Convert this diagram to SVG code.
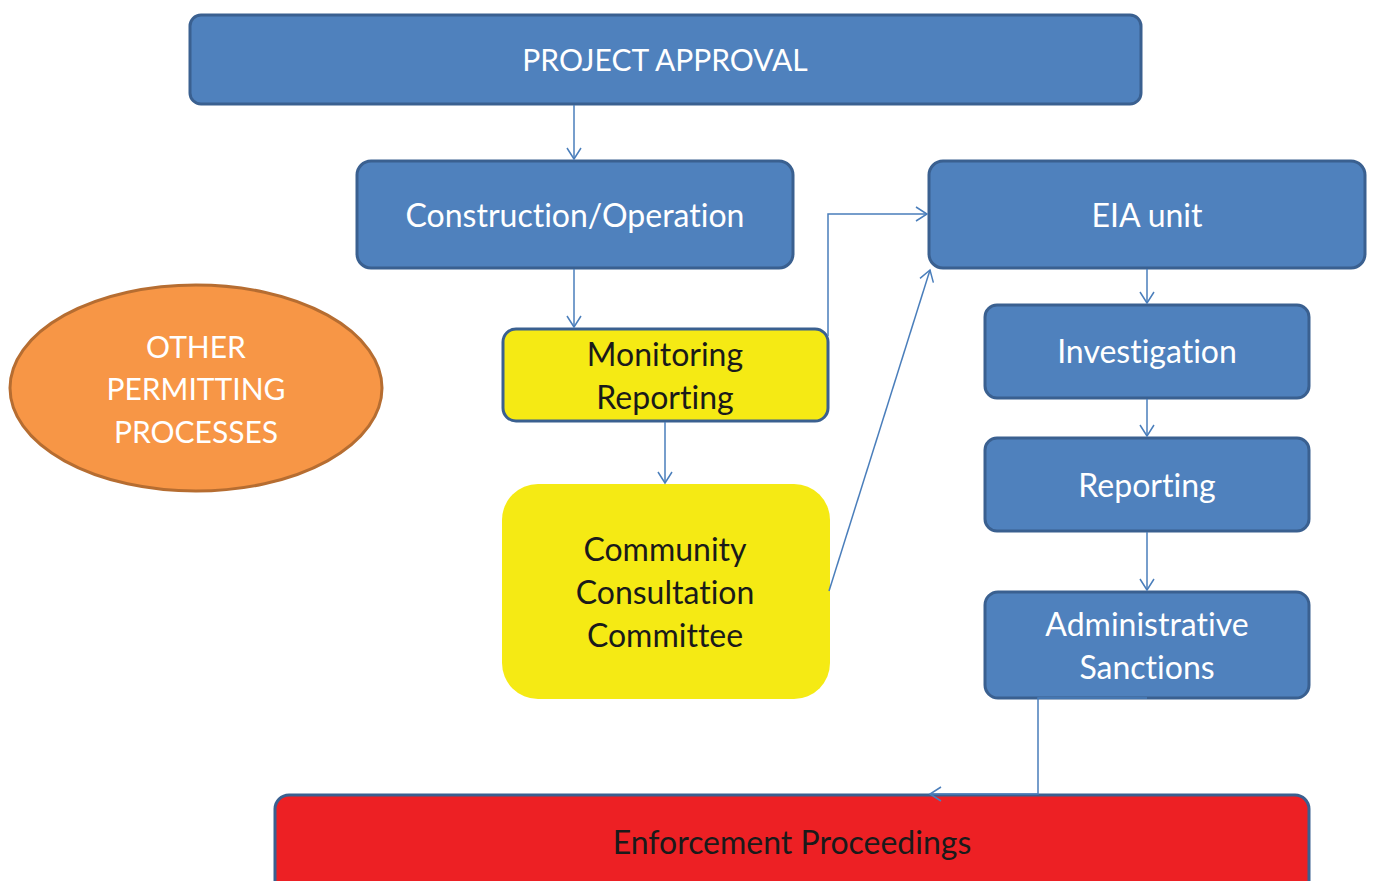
<svg xmlns="http://www.w3.org/2000/svg" width="1373" height="881" viewBox="0 0 1373 881">
<style>
.blue{fill:#4F81BD;stroke:#3A6090;stroke-width:3}
.yel{fill:#F5EA14}
.t{font-family:Lato,"Open Sans","Liberation Sans",sans-serif;font-size:32px;text-anchor:middle;font-variant-ligatures:none}
.cap{font-size:30px}
.w{fill:#FFFFFF}
.k{fill:#1A1A1A}
.c{fill:none;stroke:#4A7EBB;stroke-width:1.5}
</style>
<defs>
<marker id="a" markerUnits="userSpaceOnUse" markerWidth="14" markerHeight="16" refX="12" refY="8" orient="auto">
<path d="M1,1 L12,8 L1,15" fill="none" stroke="#4A7EBB" stroke-width="1.5"/>
</marker>
</defs>
<rect width="1373" height="881" fill="#FFFFFF"/>
<g id="project-approval">
<rect class="blue" x="190" y="15" width="951" height="89" rx="11"/>
<text class="t w cap" x="665" y="71">PROJECT APPROVAL</text>
</g>
<g id="construction-operation">
<rect class="blue" x="357" y="161" width="436" height="107" rx="14"/>
<text class="t w" x="575" y="227">Construction/Operation</text>
</g>
<g id="eia-unit">
<rect class="blue" x="929" y="161" width="436" height="107" rx="14"/>
<text class="t w" x="1147" y="227">EIA unit</text>
</g>
<g id="monitoring-reporting">
<rect x="503" y="329" width="325" height="92" rx="13" fill="#F5EA14" stroke="#3A6090" stroke-width="3"/>
<text class="t k" x="665" y="366">Monitoring</text>
<text class="t k" x="665" y="409">Reporting</text>
</g>
<g id="community-consultation-committee">
<rect class="yel" x="502" y="484" width="328" height="215" rx="36"/>
<text class="t k" x="665" y="561">Community</text>
<text class="t k" x="665" y="604">Consultation</text>
<text class="t k" x="665" y="647">Committee</text>
</g>
<g id="investigation">
<rect class="blue" x="985" y="305" width="324" height="93" rx="12"/>
<text class="t w" x="1147" y="363">Investigation</text>
</g>
<g id="reporting">
<rect class="blue" x="985" y="438" width="324" height="93" rx="12"/>
<text class="t w" x="1147" y="497">Reporting</text>
</g>
<g id="administrative-sanctions">
<rect class="blue" x="985" y="592" width="324" height="106" rx="13"/>
<text class="t w" x="1147" y="636">Administrative</text>
<text class="t w" x="1147" y="679">Sanctions</text>
</g>
<g id="enforcement-proceedings">
<rect x="275" y="795" width="1034" height="110" rx="14" fill="#ED2024" stroke="#3A6090" stroke-width="3"/>
<text class="t k" x="792" y="854">Enforcement Proceedings</text>
</g>
<g id="other-permitting-processes">
<ellipse cx="196" cy="388" rx="186" ry="103" fill="#F79646" stroke="#B66D31" stroke-width="3"/>
<text class="t w cap" x="196" y="358">OTHER</text>
<text class="t w cap" x="196" y="400">PERMITTING</text>
<text class="t w cap" x="196" y="443">PROCESSES</text>
</g>
<g id="connectors">
<line class="c" x1="574" y1="105" x2="574" y2="159" marker-end="url(#a)"/>
<line class="c" x1="574" y1="269" x2="574" y2="327" marker-end="url(#a)"/>
<line class="c" x1="665" y1="422" x2="665" y2="483" marker-end="url(#a)"/>
<polyline class="c" points="828,336 828,214 927,214" marker-end="url(#a)"/>
<line class="c" x1="829" y1="591" x2="930" y2="270" marker-end="url(#a)"/>
<line class="c" x1="1147" y1="269" x2="1147" y2="303" marker-end="url(#a)"/>
<line class="c" x1="1147" y1="399" x2="1147" y2="436" marker-end="url(#a)"/>
<line class="c" x1="1147" y1="532" x2="1147" y2="590" marker-end="url(#a)"/>
<polyline class="c" points="1147,698 1038,698 1038,794 930,794" marker-end="url(#a)"/>
</g>
</svg>
